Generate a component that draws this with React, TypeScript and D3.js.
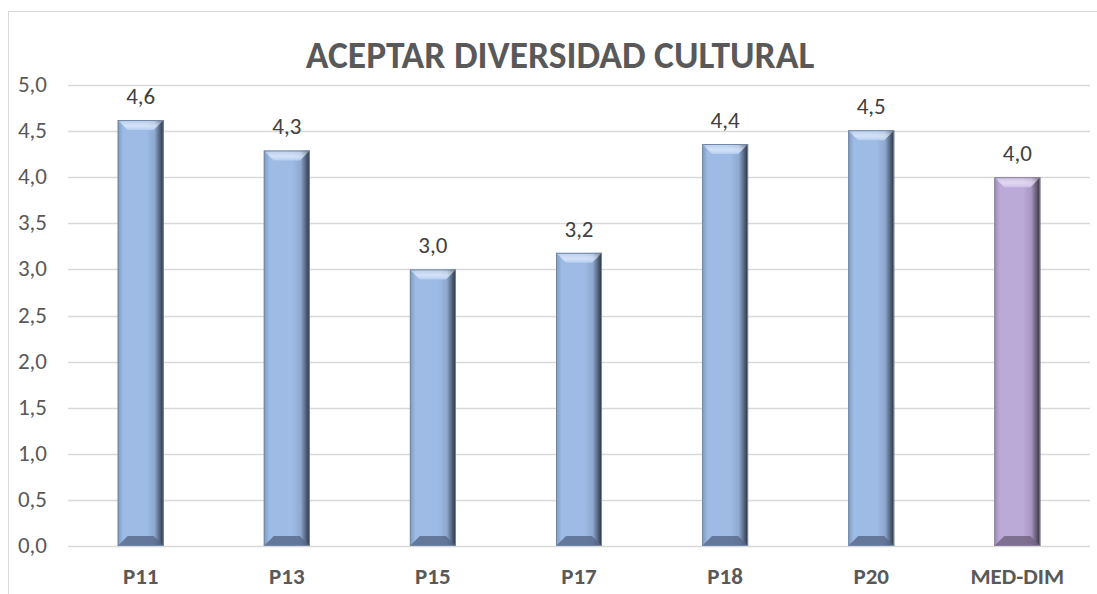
import React from 'react';
import * as d3 from 'd3';

const categories = ['P11', 'P13', 'P15', 'P17', 'P18', 'P20', 'MED-DIM'];
const values = [4.62, 4.29, 3.0, 3.18, 4.36, 4.51, 4.0];
const valueLabels = ['4,6', '4,3', '3,0', '3,2', '4,4', '4,5', '4,0'];
const yTicks = [0, 0.5, 1, 1.5, 2, 2.5, 3, 3.5, 4, 4.5, 5];

const W = 1097;
const H = 594;
const font = 'Calibri, Carlito, "Open Sans", "Liberation Sans", sans-serif';

const App = () => {
  const x = d3.scaleBand().domain(categories).range([68, 1090]).paddingInner(0.685).paddingOuter(0.34);
  const y = d3.scaleLinear().domain([0, 5]).range([546, 85]);
  const bev = 10;

  return (
    <svg width={W} height={H} style={{ position: 'absolute', left: 0, top: 0 }}>
      <defs>
        {[
          ['blue', '#7f98bd', '#9dbbe4', '#8fa9d0', '#26303f'],
          ['purple', '#9b8bb1', '#bbaad8', '#a898c2', '#352d3d'],
        ].map(([id, l, m, m2, r]) => (
          <linearGradient key={id} id={`g-${id}`} x1="0" x2="1" y1="0" y2="0">
            <stop offset="0" stopColor={l} />
            <stop offset="0.12" stopColor={m} />
            <stop offset="0.62" stopColor={m} />
            <stop offset="0.8" stopColor={m2} />
            <stop offset="1" stopColor={r} />
          </linearGradient>
        ))}
        <linearGradient id="topbev" x1="0" x2="0" y1="0" y2="1">
          <stop offset="0" stopColor="#ffffff" stopOpacity={0.25} />
          <stop offset="0.6" stopColor="#e8f2ff" stopOpacity={0.7} />
          <stop offset="1" stopColor="#b4cdf0" stopOpacity={0.9} />
        </linearGradient>
        <linearGradient id="topbevp" x1="0" x2="0" y1="0" y2="1">
          <stop offset="0" stopColor="#ffffff" stopOpacity={0.25} />
          <stop offset="0.6" stopColor="#f0e8ff" stopOpacity={0.7} />
          <stop offset="1" stopColor="#cfc0e6" stopOpacity={0.9} />
        </linearGradient>
      </defs>
      <rect x={0} y={0} width={W} height={H} fill="#fff" />
      <rect x={8.5} y={11.5} width={W} height={H} fill="none" stroke="#d9d9d9" />
      <text x={560} y={68} textAnchor="middle" fontFamily={font} fontWeight="bold" fontSize={37.5} fill="#595959">
        ACEPTAR DIVERSIDAD CULTURAL
      </text>
      {yTicks.map(t => (
        <g key={t}>
          <line x1={68} x2={1090} y1={Math.round(y(t)) + 0.5} y2={Math.round(y(t)) + 0.5} stroke="#d9d9d9" strokeWidth={1.5} />
          <text x={47} y={y(t) + 7} textAnchor="end" fontFamily={font} fontSize={23} fill="#595959">
            {d3.format('.1f')(t).replace('.', ',')}
          </text>
        </g>
      ))}
      {categories.map((c, i) => {
        const x0 = x(c)!;
        const w = x.bandwidth();
        const top = y(values[i]);
        const bot = y(0);
        const purple = c === 'MED-DIM';
        return (
          <g key={c}>
            <rect x={x0} y={top} width={w} height={bot - top} fill={`url(#g-${purple ? 'purple' : 'blue'})`} />
            <polygon
              points={`${x0},${top} ${x0 + w},${top} ${x0 + w - bev},${top + bev} ${x0 + bev},${top + bev}`}
              fill={`url(#${purple ? 'topbevp' : 'topbev'})`}
            />
            <polygon
              points={`${x0},${bot} ${x0 + w},${bot} ${x0 + w - bev},${bot - bev} ${x0 + bev},${bot - bev}`}
              fill={purple ? '#6f6280' : '#56688a'}
              opacity={0.8}
            />
            <rect x={x0 + 0.5} y={top + 0.5} width={w - 1} height={bot - top - 1} fill="none" stroke={purple ? '#8c7ea0' : '#7388a8'} strokeWidth={1} />
            <text x={x0 + w / 2} y={top - 16} textAnchor="middle" fontFamily={font} fontSize={23} fill="#404040">
              {valueLabels[i]}
            </text>
            <text x={x0 + w / 2} y={584} textAnchor="middle" fontFamily={font} fontWeight="bold" fontSize={23} fill="#595959">
              {c}
            </text>
          </g>
        );
      })}
    </svg>
  );
};

export default App;
